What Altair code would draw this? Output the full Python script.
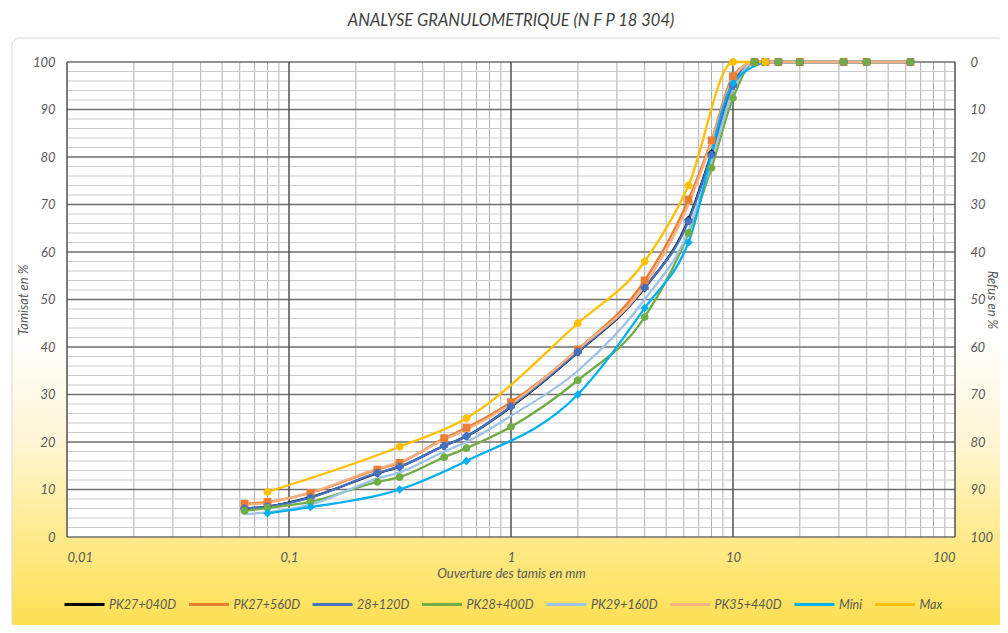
import altair as alt
import pandas as pd

# ---------------- data ----------------
series_names = ["PK27+040D", "PK27+560D", "28+120D", "PK28+400D", "PK29+160D", "PK35+440D", "Mini", "Max"]
series_colors = ["#000000", "#ED7D31", "#4472C4", "#70AD47", "#9DC3E6", "#F4B183", "#00B0F0", "#FFC000"]

pk_sieves = [0.063, 0.08, 0.125, 0.25, 0.315, 0.5, 0.63, 1, 2, 4, 6.3, 8, 10, 12.5, 14, 16, 20, 31.5, 40, 63]
pk27_040 = [6.0, 6.4, 8.4, 13.4, 14.8, 19.2, 21.2, 27.4, 38.9, 52.4, 66.8, 80.8, 95.2, 100, 100, 100, 100, 100, 100, 100]
pk27_560 = [7.0, 7.4, 9.3, 14.2, 15.6, 20.8, 23.0, 28.4, 39.5, 54.0, 71.0, 83.5, 97.0, 100, 100, 100, 100, 100, 100, 100]
pk28_120 = [6.0, 6.4, 8.3, 13.5, 14.8, 19.2, 21.2, 27.5, 39.0, 52.5, 66.5, 80.5, 95.0, 100, 100, 100, 100, 100, 100, 100]
pk28_400 = [5.5, 6.1, 7.4, 11.6, 12.6, 16.8, 18.7, 23.2, 33.0, 46.3, 64.0, 77.7, 92.4, 100, 100, 100, 100, 100, 100, 100]
pk29_160 = [4.8, 5.2, 6.8, 12.3, 13.6, 18.0, 20.0, 25.5, 35.0, 50.0, 64.5, 79.0, 94.0, 100, 100, 100, 100, 100, 100, 100]
pk35_440 = [6.8, 7.2, 9.4, 14.4, 15.8, 20.5, 22.6, 28.0, 39.5, 53.0, 70.0, 83.0, 96.5, 100, 100, 100, 100, 100, 100, 100]

max_sieves = [0.08, 0.315, 0.63, 2, 4, 6.3, 10, 14]
max_values = [9.5, 19.0, 25.0, 45.0, 58.0, 74.0, 100, 100]
mini_sieves = [0.08, 0.125, 0.315, 0.63, 2, 4, 6.3, 10, 14]
mini_values = [5.0, 6.3, 10.0, 16.0, 30.0, 48.2, 62.0, 95.5, 100]

x_tick_values = [0.01, 0.1, 1, 10, 100]
y_tick_values = [0, 10, 20, 30, 40, 50, 60, 70, 80, 90, 100]
grid_v_major = [0.01, 0.1, 1, 10, 100]
grid_v_minor = [round(d * k, 4) for d in (0.01, 0.1, 1, 10) for k in range(2, 10)]
grid_h_major = [0, 10, 20, 30, 40, 50, 60, 70, 80, 90, 100]
grid_h_minor = [v for v in range(2, 100, 2) if v % 10]

marker_shapes = {"PK27+040D": "diamond", "PK27+560D": "square", "28+120D": "cross",
                 "PK28+400D": "circle", "Mini": "diamond", "Max": "circle"}

rows = []
for name, vals in zip(series_names[:6], [pk27_040, pk27_560, pk28_120, pk28_400, pk29_160, pk35_440]):
    for i, (s, v) in enumerate(zip(pk_sieves, vals)):
        rows.append({"serie": name, "tamis": s, "tamisat": v, "i": i})
for i, (s, v) in enumerate(zip(mini_sieves, mini_values)):
    rows.append({"serie": "Mini", "tamis": s, "tamisat": v, "i": i})
for i, (s, v) in enumerate(zip(max_sieves, max_values)):
    rows.append({"serie": "Max", "tamis": s, "tamisat": v, "i": i})
df = pd.DataFrame(rows)
df_pts = df[df["serie"].isin(list(marker_shapes.keys()))]

W, H = 888, 475
FONT = "Lato"
TXT = "#595959"

xscale = alt.Scale(type="log", domain=[0.01, 100], nice=False)
yscale = alt.Scale(domain=[0, 100], nice=False)
one = pd.DataFrame({"a": [0]})

axis_style = dict(domain=False, ticks=False, grid=False, zindex=1,
                  labelFont=FONT, labelFontSize=13, labelFontStyle="italic", labelColor=TXT,
                  titleFont=FONT, titleFontSize=13, titleFontStyle="italic",
                  titleFontWeight="normal", titleColor=TXT)
x_axis = alt.Axis(values=x_tick_values, title="Ouverture des tamis en mm",
                  labelExpr="replace(datum.label, '.', ',')", format="~g",
                  labelPadding=14, titlePadding=3, **axis_style)
y_axis = alt.Axis(values=y_tick_values, title="Tamisat en %",
                  labelPadding=12, titlePadding=2, **axis_style)

# background frame with gradient
grad = alt.LinearGradient(
    gradient="linear",
    stops=[alt.GradientStop(color="#FFFFFF", offset=0),
           alt.GradientStop(color="#FFFFFF", offset=0.5),
           alt.GradientStop(color="#FFF6D5", offset=0.68),
           alt.GradientStop(color="#FFEC95", offset=0.82),
           alt.GradientStop(color="#FDDF50", offset=1)],
    x1=0, x2=0, y1=0, y2=1)
frame = alt.Chart(one).mark_rect(fill=grad, stroke="#D9D9D9", strokeWidth=1, cornerRadius=8).encode(
    x=alt.value(-55), x2=alt.value(938), y=alt.value(-24), y2=alt.value(568))
plotbg = alt.Chart(one).mark_rect(fill="white").encode(
    x=alt.value(0), x2=alt.value(W), y=alt.value(0), y2=alt.value(H))

vminor = alt.Chart(pd.DataFrame({"tamis": grid_v_minor})).mark_rule(color="#B0B0B0", strokeWidth=1).encode(
    x=alt.X("tamis:Q", scale=xscale, axis=x_axis))
hminor = alt.Chart(pd.DataFrame({"tamisat": grid_h_minor})).mark_rule(color="#CCCCCC", strokeWidth=1).encode(
    y=alt.Y("tamisat:Q", scale=yscale, axis=y_axis))
hmajor = alt.Chart(pd.DataFrame({"tamisat": grid_h_major})).mark_rule(color="#6E6E6E", strokeWidth=1.5).encode(
    y=alt.Y("tamisat:Q", scale=yscale, axis=y_axis))
vmajor = alt.Chart(pd.DataFrame({"tamis": grid_v_major})).mark_rule(color="#505050", strokeWidth=1.5).encode(
    x=alt.X("tamis:Q", scale=xscale, axis=x_axis))

color_scale = alt.Scale(domain=series_names, range=series_colors)

lines = alt.Chart(df).mark_line(interpolate="monotone", strokeWidth=2.3).encode(
    x=alt.X("tamis:Q", scale=xscale, axis=x_axis),
    y=alt.Y("tamisat:Q", scale=yscale, axis=y_axis),
    color=alt.Color("serie:N", scale=color_scale, sort=series_names,
                    legend=alt.Legend(title=None, orient="none", legendX=-4, legendY=521,
                                      direction="horizontal", columns=8, gridAlign="none",
                                      symbolType="stroke", symbolSize=1600, symbolStrokeWidth=3,
                                      columnPadding=5.5, labelOffset=3,
                                      labelFont=FONT, labelFontSize=12.5, labelFontStyle="italic",
                                      labelColor=TXT)),
    detail="serie:N",
    order="i:Q",
)

points = alt.Chart(df_pts).mark_point(filled=True, size=40, opacity=1, strokeWidth=1.5).encode(
    x=alt.X("tamis:Q", scale=xscale, axis=x_axis),
    y=alt.Y("tamisat:Q", scale=yscale, axis=y_axis),
    fill=alt.Fill("serie:N", scale=color_scale, legend=None),
    stroke=alt.Stroke("serie:N", scale=color_scale, legend=None),
    shape=alt.Shape("serie:N", scale=alt.Scale(domain=list(marker_shapes.keys()),
                                               range=list(marker_shapes.values())), legend=None),
)

main = alt.layer(frame, plotbg, vminor, hminor, hmajor, vmajor, lines, points)

right = alt.Chart(pd.DataFrame({"refus": [0, 100]})).mark_point(opacity=0).encode(
    x=alt.value(0),
    y=alt.Y("refus:Q", scale=alt.Scale(domain=[0, 100], reverse=True, nice=False),
            axis=alt.Axis(orient="right", values=y_tick_values, title="Refus en %",
                          titleX=29, titleY=H / 2, titleAngle=90,
                          labelPadding=15, **axis_style)),
)

chart = alt.layer(main, right).resolve_scale(y="independent").properties(
    width=W, height=H,
    autosize=alt.AutoSizeParams(type="none"),
    padding={"left": 59, "top": 54, "right": 45, "bottom": 88},
    title=alt.TitleParams("ANALYSE  GRANULOMETRIQUE (N F P 18 304)", font=FONT, fontSize=16.5,
                          fontStyle="italic", fontWeight="normal", color="#404040",
                          anchor="middle", offset=8),
).configure_view(stroke=None)

chart.save("out.html", embed_options={"renderer": "svg", "actions": False})
